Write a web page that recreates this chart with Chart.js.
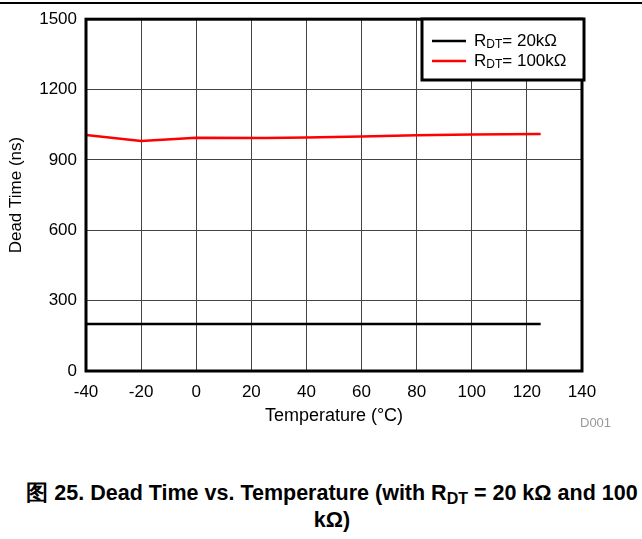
<!DOCTYPE html>
<html>
<head>
<meta charset="utf-8">
<script src="https://cdn.jsdelivr.net/npm/chart.js@4"></script>
<style>
  html, body { margin: 0; padding: 0; background: #fff; }
  body { width: 642px; height: 539px; position: relative; overflow: hidden; font-family: "Liberation Sans", Arial, sans-serif; }
  #rule { position: absolute; left: 0; top: 2px; width: 642px; height: 2px; background: #000; }
  #wrap { position: absolute; left: 0; top: 0; width: 642px; height: 440px; }
  #d001 { position: absolute; left: 580px; top: 415px; font-size: 13px; color: #999; }
  #caption { position: absolute; left: 11px; top: 480px; width: 642px; text-align: center; font-weight: bold; font-size: 21.5px; line-height: 27px; color: #000; white-space: nowrap; }
  #caption sub { font-size: 16px; vertical-align: -4px; line-height: 0; }
</style>
</head>
<body>
<div id="rule"></div>
<div id="wrap"><canvas id="c" width="642" height="440"></canvas></div>
<div id="d001">D001</div>
<div id="caption">图 25. Dead Time vs. Temperature (with R<sub>DT</sub> = 20 kΩ and 100<br>kΩ)</div>
<script>
const temperatures = [-40, -20, 0, 25, 40, 60, 80, 100, 125];
const deadTime20k = [200, 200, 200, 200, 200, 200, 200, 200, 200];
const deadTime100k = [1006, 981, 994, 993, 996, 1000, 1005, 1008, 1011];
const seriesNames = ["20kΩ", "100kΩ"];
const seriesColors = ["#000000", "#ff0000"];
const xTicks = [-40, -20, 0, 20, 40, 60, 80, 100, 120, 140];
const yTicks = [0, 300, 600, 900, 1200, 1500];

const FONT = '"Liberation Sans", Arial, sans-serif';
const toPts = (arr) => temperatures.map((t, i) => ({ x: t, y: arr[i] }));

const legendPlugin = {
  id: 'customLegend',
  afterDraw(chart) {
    const ctx = chart.ctx;
    const x0 = 422, y0 = 19, w = 162, h = 61;
    ctx.save();
    ctx.fillStyle = '#fff';
    ctx.fillRect(x0, y0, w, h);
    ctx.lineWidth = 3;
    ctx.strokeStyle = '#000';
    ctx.strokeRect(x0, y0, w, h);
    chart.data.datasets.forEach((ds, i) => {
      const yy = 41 + i * 20;
      ctx.strokeStyle = ds.borderColor;
      ctx.lineWidth = 2.5;
      ctx.beginPath();
      ctx.moveTo(432, yy);
      ctx.lineTo(466, yy);
      ctx.stroke();
      ctx.fillStyle = '#000';
      ctx.textBaseline = 'middle';
      ctx.font = '17px ' + FONT;
      let tx = 474;
      ctx.fillText('R', tx, yy);
      tx += ctx.measureText('R').width;
      ctx.font = '12px ' + FONT;
      ctx.fillText('DT', tx, yy + 4);
      tx += ctx.measureText('DT').width;
      ctx.font = '17px ' + FONT;
      ctx.fillText('= ' + ds.label, tx, yy);
    });
    ctx.restore();
  }
};

const borderPlugin = {
  id: 'plotBorder',
  afterDatasetsDraw(chart) {
    const a = chart.chartArea, ctx = chart.ctx;
    ctx.save();
    ctx.lineWidth = 3;
    ctx.strokeStyle = '#000';
    ctx.strokeRect(a.left, a.top, a.right - a.left, a.bottom - a.top);
    ctx.restore();
  }
};

new Chart(document.getElementById('c'), {
  type: 'scatter',
  data: {
    datasets: [
      { label: seriesNames[0], data: toPts(deadTime20k), borderColor: seriesColors[0], backgroundColor: seriesColors[0], showLine: true, borderWidth: 2.5, pointRadius: 0, tension: 0 },
      { label: seriesNames[1], data: toPts(deadTime100k), borderColor: seriesColors[1], backgroundColor: seriesColors[1], showLine: true, borderWidth: 2.5, pointRadius: 0, tension: 0 }
    ]
  },
  options: {
    responsive: false,
    animation: false,
    devicePixelRatio: 1,
    layout: { padding: { left: 0, right: 60, top: 19, bottom: 0 } },
    plugins: { legend: { display: false }, tooltip: { enabled: false } },
    scales: {
      x: {
        type: 'linear', min: -40, max: 140,
        afterBuildTicks: (s) => { s.ticks = xTicks.map(v => ({ value: v })); },
        ticks: { color: '#000', font: { size: 17, family: FONT }, padding: 11, maxRotation: 0, callback: (v) => String(v) },
        grid: { color: '#444', lineWidth: 1, drawTicks: false },
        border: { display: false },
        title: { display: true, text: 'Temperature (°C)', color: '#000', font: { size: 18, family: FONT }, padding: { top: 0, bottom: 13 } },
        afterFit: (s) => { s.height = 69; }
      },
      y: {
        type: 'linear', min: 0, max: 1500,
        afterBuildTicks: (s) => { s.ticks = yTicks.map(v => ({ value: v })); },
        ticks: { color: '#000', font: { size: 17, family: FONT }, padding: 9, callback: (v) => String(v) },
        grid: { color: '#444', lineWidth: 1, drawTicks: false },
        border: { display: false },
        title: { display: true, text: 'Dead Time (ns)', color: '#000', font: { size: 17, family: FONT }, padding: { top: 6, bottom: 4 } },
        afterFit: (s) => { s.width = 86; }
      }
    }
  },
  plugins: [borderPlugin, legendPlugin]
});
</script>
</body>
</html>
